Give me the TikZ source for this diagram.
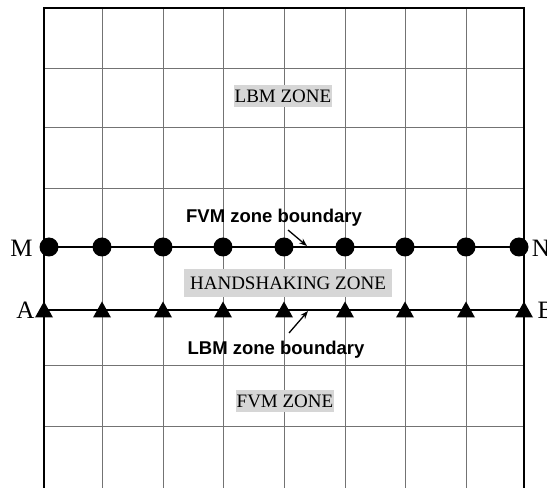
\documentclass[tikz,border=0pt]{standalone}
\usepackage{fontspec}
\setmainfont{Liberation Serif}
\newfontfamily\labelsans{Liberation Sans}
\usetikzlibrary{arrows.meta}
\definecolor{gridline}{gray}{0.45}
\definecolor{zonefill}{gray}{0.84}
\tikzset{
  zonelabel/.style={fill=zonefill,inner xsep=1pt,inner ysep=4.5pt,
    font=\fontsize{19}{21}\selectfont},
  boundlabel/.style={font=\labelsans\bfseries\fontsize{18.5}{20}\selectfont},
  endlabel/.style={font=\fontsize{25}{27}\selectfont},
  pointer/.style={line width=1.3pt,-{Stealth[length=8pt,width=6pt]}}
}

\begin{document}
\begin{tikzpicture}[x=1pt,y=1pt]
  \useasboundingbox (0,0) rectangle (547,488);
  \fill[white] (0,0) rectangle (547,488);

  % grid
  \foreach \x in {102,163,223,284,345,405,466} {
    \draw[gridline,line width=1pt] (\x,0) -- (\x,480);
  }
  \foreach \y in {419,360,299,122,61} {
    \draw[gridline,line width=1pt] (44,\y) -- (524,\y);
  }

  % outer border
  \draw[line width=2.6pt] (44,0) -- (44,480) -- (524,480) -- (524,0);

  % zone boundaries
  \draw[line width=2pt] (44,241) -- (524,241);
  \draw[line width=2pt] (44,178) -- (524,178);

  \foreach \x in {49,102,163,223,284,345,405,466,519} {
    \fill (\x,241) circle[radius=9.5pt];
  }
  \foreach \x in {44,102,163,223,284,345,405,466,524} {
    \fill (\x-9,170.5) -- (\x+9,170.5) -- (\x,186.5) -- cycle;
  }

  \node[endlabel] (m) at (21.5,240) {M};
  \node[endlabel] (n) at (541,240) {N};
  \node[endlabel] (a) at (25.5,178) {A};
  \node[endlabel] (b) at (546,178) {B};

  \node[zonelabel] (lbmzone) at (283,392) {LBM ZONE};
  \node[zonelabel,inner xsep=6pt,inner ysep=7.5pt] (hszone) at (288,205)
    {HANDSHAKING ZONE};
  \node[zonelabel] (fvmzone) at (285,87) {FVM ZONE};

  \node[boundlabel] (fvmbound) at (274,270) {FVM zone boundary};
  \node[boundlabel] (lbmbound) at (276,138) {LBM zone boundary};

  \coordinate (fvmtail) at (288,258);
  \coordinate (fvmtip) at (307,242);
  \coordinate (lbmtail) at (289,155);
  \coordinate (lbmtip) at (308,177);
  \draw[pointer] (fvmtail) -- (fvmtip);
  \draw[pointer] (lbmtail) -- (lbmtip);
\end{tikzpicture}
\end{document}
